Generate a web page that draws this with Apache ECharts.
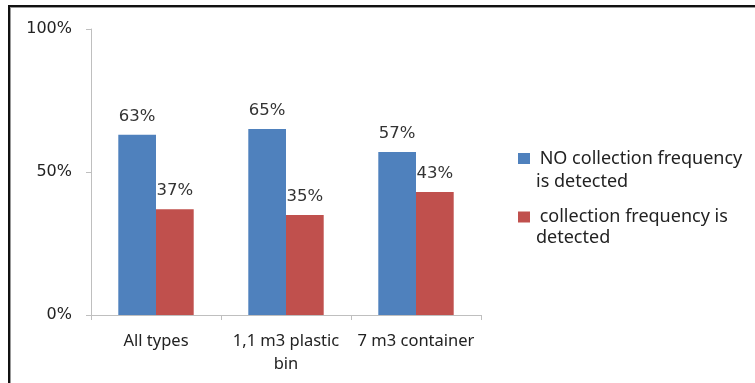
<!DOCTYPE html>
<html>
<head>
<meta charset="utf-8">
<script src="https://cdn.jsdelivr.net/npm/echarts@6/dist/echarts.min.js"></script>
<style>
  html, body { margin: 0; padding: 0; background: #fff; }
  #chart { width: 755px; height: 383px; }
</style>
</head>
<body>
<div id="chart"></div>
<script>
// categories and the two shares (percent)
const categories = ["All types", "1,1 m3 plastic\nbin", "7 m3 container"];
const noFreqValues = [63, 65, 57];
const freqValues = [37, 35, 43];
const seriesNames = [" NO collection frequency\nis detected", " collection frequency is\ndetected"];
const yTicks = [0, 50, 100];

const BLUE = "#4F81BD";
const RED = "#C0504D";
const AXIS = "#BFBFBF";
const INK = "#222";

const chart = echarts.init(document.getElementById("chart"), null, { renderer: "canvas" });

const barLabel = {
  show: true,
  position: "top",
  distance: 10,
  fontFamily: "DejaVu Sans",
  fontSize: 16.5,
  color: "#333",
  formatter: (p) => p.value + "%"
};

// the legend shows the first line of each name next to the swatch, the wrapped rest goes below it
const legendFont = { fontFamily: "Noto Sans", fontSize: 18, color: INK };
const wrapLines = seriesNames.map((n, i) => ({
  type: "text",
  left: 536,
  top: [171, 227][i],
  style: Object.assign({ text: n.split("\n")[1], lineHeight: 21 }, legendFont, { fill: INK })
}));

chart.setOption({
  animation: false,
  backgroundColor: "#fff",
  textStyle: { fontFamily: "Noto Sans" },
  grid: { left: 91, right: 274, top: 29, bottom: 68, containLabel: false },
  legend: {
    orient: "vertical",
    left: 518,
    top: 149.5,
    padding: 0,
    itemWidth: 12,
    itemHeight: 11,
    itemGap: 40.5,
    icon: "rect",
    formatter: (name) => name.split("\n")[0],
    textStyle: Object.assign({ lineHeight: 16 }, legendFont),
    data: seriesNames
  },
  xAxis: {
    type: "category",
    data: categories,
    axisLine: { lineStyle: { color: AXIS, width: 1 } },
    axisTick: { show: true, alignWithLabel: false, length: 5, lineStyle: { color: AXIS } },
    axisLabel: { fontFamily: "Noto Sans", fontSize: 16.5, color: INK, margin: 15, lineHeight: 23, interval: 0 }
  },
  yAxis: {
    type: "value",
    min: 0,
    max: 100,
    interval: 50,
    axisLine: { show: true, lineStyle: { color: AXIS, width: 1 } },
    axisTick: { show: true, length: 5, lineStyle: { color: AXIS } },
    splitLine: { show: false },
    axisLabel: {
      fontFamily: "DejaVu Sans",
      fontSize: 16,
      color: INK,
      margin: 19,
      formatter: (v) => (yTicks.includes(v) ? v + "%" : "")
    }
  },
  series: [
    {
      name: seriesNames[0],
      type: "bar",
      data: noFreqValues,
      itemStyle: { color: BLUE },
      barGap: "0%",
      barCategoryGap: "42%",
      label: barLabel
    },
    {
      name: seriesNames[1],
      type: "bar",
      data: freqValues,
      itemStyle: { color: RED },
      label: barLabel
    }
  ],
  graphic: [
    // outer frame: top and left edges of the chart box
    { type: "rect", shape: { x: 8, y: 5, width: 760, height: 2 }, style: { fill: "#111" } },
    { type: "rect", shape: { x: 8, y: 7, width: 760, height: 1 }, style: { fill: "#999" } },
    { type: "rect", shape: { x: 8, y: 5, width: 2, height: 390 }, style: { fill: "#111" } },
    { type: "rect", shape: { x: 10, y: 7, width: 1, height: 390 }, style: { fill: "#999" } }
  ].concat(wrapLines)
});
</script>
</body>
</html>
